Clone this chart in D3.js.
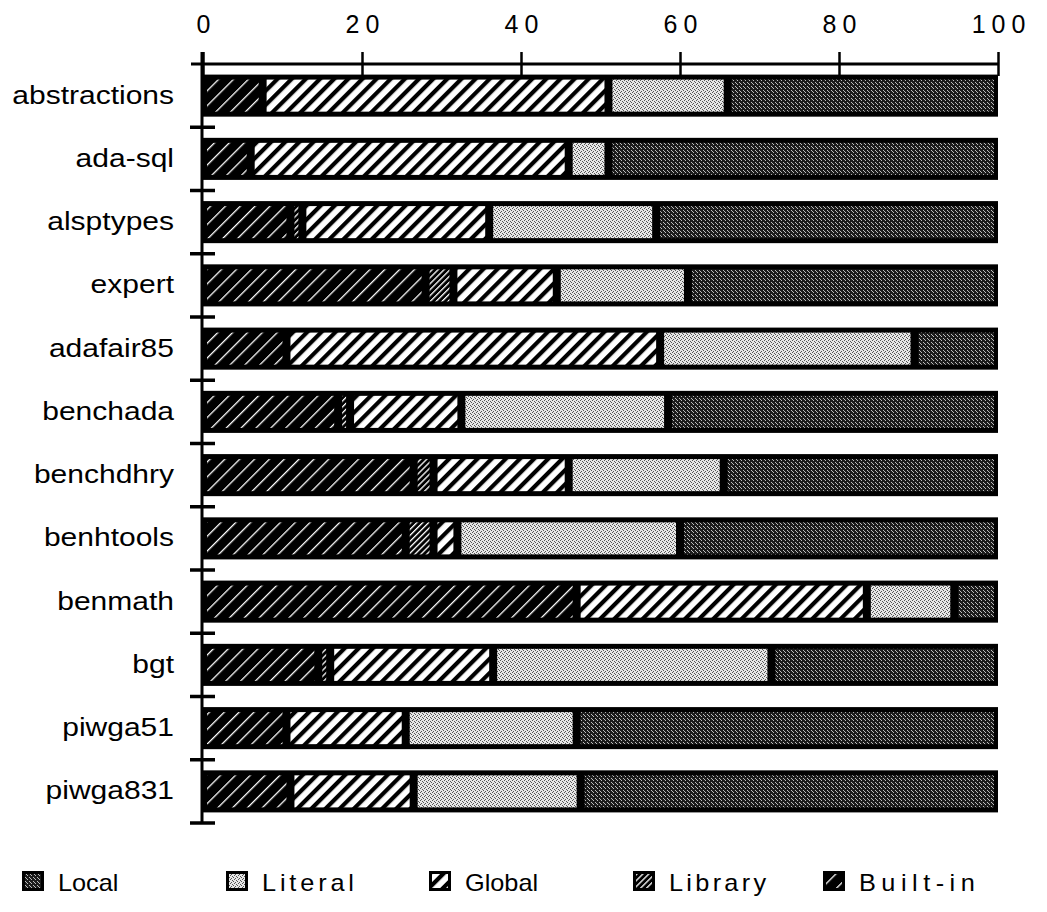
<!DOCTYPE html>
<html>
<head>
<meta charset="utf-8">
<script src="https://cdn.jsdelivr.net/npm/d3@7"></script>
<style>
  html, body { margin: 0; padding: 0; background: #fff; }
  svg { display: block; }
  text { font-family: "Liberation Sans", Arial, Helvetica, sans-serif; fill: #000; }
</style>
</head>
<body>
<div id="chart"></div>
<script>
// Programas (linhas do gráfico)
const categories = [
  "abstractions", "ada-sql", "alsptypes", "expert", "adafair85", "benchada",
  "benchdhry", "benhtools", "benmath", "bgt", "piwga51", "piwga831",
];

// Percentuais por tipo de referência (mesma ordem das categorias)
const builtInPct = [7.5, 6, 11, 28, 10.5, 17, 26.5, 25.5, 47, 14.5, 10.5, 11];
const libraryPct = [0, 0, 1.5, 3.5, 0, 1.5, 2.5, 3.5, 0, 1.5, 0, 0];
const globalPct = [43.5, 40, 23.5, 13, 47, 14, 17, 3, 36.5, 20.5, 15, 15.5];
const literalPct = [15, 5, 21, 16.5, 32, 26, 19.5, 28, 11, 35, 21.5, 21];
const localPct = [34, 49, 43, 39, 10.5, 41.5, 34.5, 40, 5.5, 28.5, 53, 52.5];

// Ordem de empilhamento (esquerda -> direita) e da legenda
const seriesKeys = ["Built-in", "Library", "Global", "Literal", "Local"];
const legendKeys = ["Local", "Literal", "Global", "Library", "Built-in"];
const tickValues = [0, 20, 40, 60, 80, 100];

const W = 1047;
const H = 912;

const rows = categories.map((c, i) => ({
  name: c,
  "Built-in": builtInPct[i],
  Library: libraryPct[i],
  Global: globalPct[i],
  Literal: literalPct[i],
  Local: localPct[i],
}));

const svg = d3
  .select("#chart")
  .append("svg")
  .attr("width", W)
  .attr("height", H);

// Padrões de preenchimento (hachuras e pontilhados)
const defs = svg.append("defs");

function hatch(id, size, lineW, bg, fg) {
  const p = defs
    .append("pattern")
    .attr("id", id)
    .attr("patternUnits", "userSpaceOnUse")
    .attr("width", size)
    .attr("height", size)
    .attr("patternTransform", "rotate(45)");
  p.append("rect").attr("width", size).attr("height", size).attr("fill", bg);
  p.append("rect")
    .attr("x", 0)
    .attr("y", 0)
    .attr("width", lineW)
    .attr("height", size)
    .attr("fill", fg);
}

hatch("pat-builtin", 10.5, 1.3, "#000", "#fff");
hatch("pat-library", 4.2, 1.3, "#000", "#fff");
hatch("pat-global", 10, 4.2, "#fff", "#000");

function stipple(id, bg, fg, dots) {
  const p = defs
    .append("pattern")
    .attr("id", id)
    .attr("patternUnits", "userSpaceOnUse")
    .attr("width", 4)
    .attr("height", 4);
  p.append("rect").attr("width", 4).attr("height", 4).attr("fill", bg);
  dots.forEach(([dx, dy]) => {
    p.append("rect")
      .attr("x", dx)
      .attr("y", dy)
      .attr("width", 1)
      .attr("height", 1)
      .attr("fill", fg);
  });
}

stipple("pat-literal", "#e6e6e6", "#555", [[0, 0], [2, 1], [1, 3], [3, 2]]);
stipple("pat-local", "#1c1c1c", "#bdbdbd", [[1, 0], [3, 2], [0, 3]]);

const fills = {
  "Built-in": "url(#pat-builtin)",
  Library: "url(#pat-library)",
  Global: "url(#pat-global)",
  Literal: "url(#pat-literal)",
  Local: "url(#pat-local)",
};

// Escalas
const x = d3.scaleLinear().domain([0, 100]).range([203, 998]);
const y = d3
  .scaleBand()
  .domain(categories)
  .range([64, 823])
  .paddingInner(0.335)
  .paddingOuter(0.1675);

const stacked = d3.stack().keys(seriesKeys)(rows);

// Barra de fundo preta (bordas e separadores)
svg
  .append("g")
  .selectAll("rect")
  .data(rows)
  .enter()
  .append("rect")
  .attr("x", x(0))
  .attr("y", (d) => y(d.name))
  .attr("width", x(100) - x(0))
  .attr("height", y.bandwidth())
  .attr("fill", "#000");

// Segmentos internos com padrão
const insetX = 4;
const insetY = 5;
svg
  .append("g")
  .selectAll("g")
  .data(stacked)
  .enter()
  .append("g")
  .attr("fill", (s) => fills[s.key])
  .selectAll("rect")
  .data((s) => s.filter((d) => d[1] - d[0] > 0))
  .enter()
  .append("rect")
  .attr("x", (d) => x(d[0]) + insetX)
  .attr("y", (d) => y(d.data.name) + insetY)
  .attr("width", (d) => Math.max(1.5, x(d[1]) - x(d[0]) - insetX * 2))
  .attr("height", y.bandwidth() - insetY * 2);

// Eixo superior
const axisTop = svg
  .append("g")
  .attr("transform", `translate(0, ${y.range()[0]})`)
  .call(d3.axisTop(x).tickValues(tickValues).tickSize(12).tickSizeOuter(0).tickFormat(d3.format("d")));

axisTop.select(".domain")
  .attr("stroke", "#000")
  .attr("stroke-width", 3)
  .attr("d", `M${x(0) - 12},0H${x(100)}`);
axisTop.selectAll(".tick line")
  .attr("stroke", "#000")
  .attr("stroke-width", 2.5)
  .attr("y1", 12)
  .attr("y2", -12);
axisTop.selectAll(".tick text")
  .attr("y", -31)
  .attr("dy", 0)
  .attr("dx", 3)
  .style("font-size", "25px")
  .style("letter-spacing", "6px")
  .attr("fill", "#000");

// Eixo esquerdo com marcas entre barras
const axisX = x(0) - 1;
svg
  .append("line")
  .attr("x1", axisX)
  .attr("x2", axisX)
  .attr("y1", y.range()[0] - 12)
  .attr("y2", y.range()[1])
  .attr("stroke", "#000")
  .attr("stroke-width", 3);

const gap = (y.step() - y.bandwidth()) / 2;
svg
  .append("g")
  .selectAll("line")
  .data(categories)
  .enter()
  .append("line")
  .attr("x1", axisX - 12)
  .attr("x2", axisX + 13)
  .attr("y1", (d) => y(d) + y.bandwidth() + gap)
  .attr("y2", (d) => y(d) + y.bandwidth() + gap)
  .attr("stroke", "#000")
  .attr("stroke-width", 3.5);

// Rótulos das categorias (texto levemente esticado como no original)
svg
  .append("g")
  .selectAll("text")
  .data(categories)
  .enter()
  .append("text")
  .attr("transform", (d) => `translate(174, ${y(d) + y.bandwidth() / 2 + 8}) scale(1.2, 1)`)
  .attr("text-anchor", "end")
  .style("font-size", "25px")
  .text((d) => d);

// Legenda
const legendPos = [22, 226, 429, 633, 823];
const legendSpacing = {
  Local: "0px",
  Literal: "3.5px",
  Global: "0px",
  Library: "3px",
  "Built-in": "5px",
};
const legend = svg
  .append("g")
  .attr("transform", "translate(0, 871)");

legendKeys.forEach((k, i) => {
  const item = legend
    .append("g")
    .attr("transform", `translate(${legendPos[i]}, 0)`);

  item
    .append("rect")
    .attr("width", 22)
    .attr("height", 20)
    .attr("fill", "#000");

  item
    .append("rect")
    .attr("x", 3)
    .attr("y", 3)
    .attr("width", 16)
    .attr("height", 14)
    .attr("fill", fills[k]);

  item
    .append("text")
    .attr("transform", "translate(36, 20) scale(1.1, 1)")
    .style("font-size", "23px")
    .style("letter-spacing", legendSpacing[k])
    .text(k);
});
</script>
</body>
</html>
